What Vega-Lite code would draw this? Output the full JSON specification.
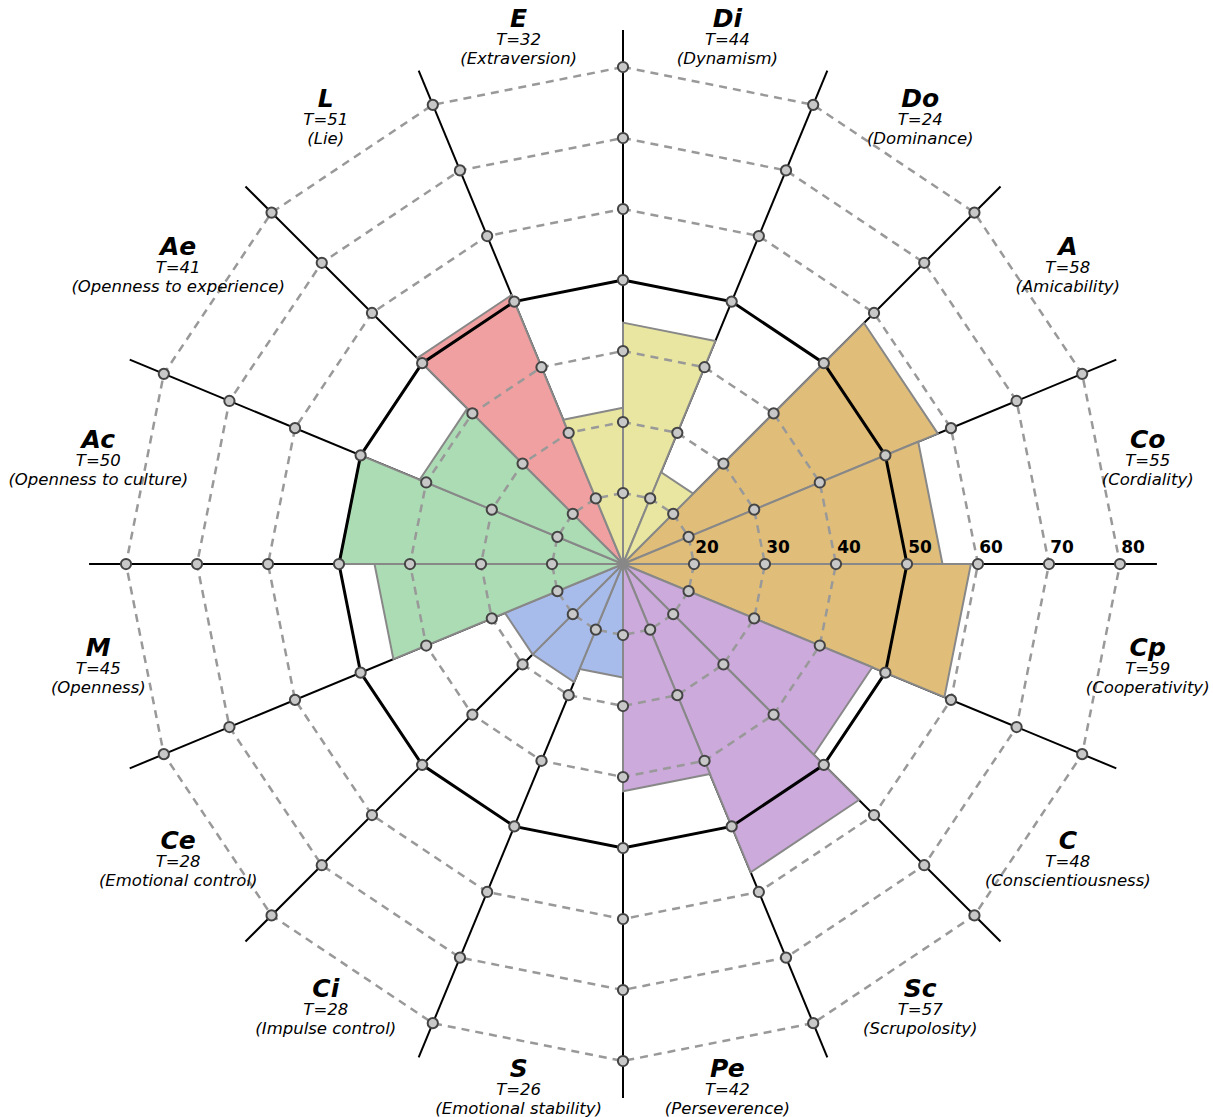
{
  "$schema": "https://vega.github.io/schema/vega-lite/v6.json",
  "width": 1213,
  "height": 1117,
  "padding": 0,
  "autosize": "none",
  "background": "white",
  "config": {"view": {"stroke": null}, "font": "DejaVu Sans"},
  "datasets": {
    "scales": [
      {"idx": 0, "abbr": "Di", "T": 44, "name": "Dynamism", "grp": "E"},
      {"idx": 1, "abbr": "Do", "T": 24, "name": "Dominance", "grp": "E"},
      {"idx": 2, "abbr": "A", "T": 58, "name": "Amicability", "grp": "A"},
      {"idx": 3, "abbr": "Co", "T": 55, "name": "Cordiality", "grp": "A"},
      {"idx": 4, "abbr": "Cp", "T": 59, "name": "Cooperativity", "grp": "A"},
      {"idx": 5, "abbr": "C", "T": 48, "name": "Conscientiousness", "grp": "C"},
      {"idx": 6, "abbr": "Sc", "T": 57, "name": "Scrupolosity", "grp": "C"},
      {"idx": 7, "abbr": "Pe", "T": 42, "name": "Perseverence", "grp": "C"},
      {"idx": 8, "abbr": "S", "T": 26, "name": "Emotional stability", "grp": "S"},
      {"idx": 9, "abbr": "Ci", "T": 28, "name": "Impulse control", "grp": "S"},
      {"idx": 10, "abbr": "Ce", "T": 28, "name": "Emotional control", "grp": "S"},
      {"idx": 11, "abbr": "M", "T": 45, "name": "Openness", "grp": "M"},
      {"idx": 12, "abbr": "Ac", "T": 50, "name": "Openness to culture", "grp": "M"},
      {"idx": 13, "abbr": "Ae", "T": 41, "name": "Openness to experience", "grp": "M"},
      {"idx": 14, "abbr": "L", "T": 51, "name": "Lie", "grp": "L"},
      {"idx": 15, "abbr": "E", "T": 32, "name": "Extraversion", "grp": "E"}
    ],
    "levels": [
      {"level": 20, "k": [0,1,2,3,4,5,6,7,8,9,10,11,12,13,14,15,16]},
      {"level": 30, "k": [0,1,2,3,4,5,6,7,8,9,10,11,12,13,14,15,16]},
      {"level": 40, "k": [0,1,2,3,4,5,6,7,8,9,10,11,12,13,14,15,16]},
      {"level": 50, "k": [0,1,2,3,4,5,6,7,8,9,10,11,12,13,14,15,16]},
      {"level": 60, "k": [0,1,2,3,4,5,6,7,8,9,10,11,12,13,14,15,16]},
      {"level": 70, "k": [0,1,2,3,4,5,6,7,8,9,10,11,12,13,14,15,16]},
      {"level": 80, "k": [0,1,2,3,4,5,6,7,8,9,10,11,12,13,14,15,16]}
    ]
  },
  "encoding": {
    "x": {"field": "x", "type": "quantitative", "scale": {"domain": [-87.746, 83.099], "nice": false, "zero": false}, "axis": null},
    "y": {"field": "y", "type": "quantitative", "scale": {"domain": [-77.887, 79.437], "nice": false, "zero": false}, "axis": null}
  },
  "layer": [
    {
      "data": {"name": "scales"},
      "transform": [
        {"calculate": "0", "as": "x"},
        {"calculate": "0", "as": "y"},
        {"calculate": "75.2*sin(datum.idx*PI/8)", "as": "x2"},
        {"calculate": "75.2*cos(datum.idx*PI/8)", "as": "y2"}
      ],
      "mark": {"type": "rule", "color": "black", "strokeWidth": 2},
      "encoding": {
        "x2": {"field": "x2"},
        "y2": {"field": "y2"}
      }
    },
    {
      "data": {"name": "scales"},
      "transform": [
        {"calculate": "[0,1,2,3]", "as": "verts"},
        {"flatten": ["verts"], "as": ["ord"]},
        {"calculate": "(datum.ord==1||datum.ord==2) ? datum.T-10 : 0", "as": "rr"},
        {"calculate": "(datum.idx + (datum.ord==2 ? 1 : 0))*PI/8", "as": "ang"},
        {"calculate": "datum.rr*sin(datum.ang)", "as": "x"},
        {"calculate": "datum.rr*cos(datum.ang)", "as": "y"}
      ],
      "mark": {"type": "line", "stroke": "#888888", "strokeWidth": 2, "strokeJoin": "miter"},
      "encoding": {
        "fill": {"field": "grp", "type": "nominal", "legend": null,
          "scale": {"domain": ["E", "A", "C", "S", "M", "L"], "range": ["#e8e6a0", "#e0be7a", "#ccaadc", "#a8bcec", "#acdcb4", "#f0a0a0"]}},
        "detail": {"field": "abbr"},
        "order": {"field": "ord", "type": "quantitative"}
      }
    },
    {
      "data": {"name": "levels"},
      "transform": [
        {"filter": "datum.level != 50"},
        {"flatten": ["k"]},
        {"calculate": "(datum.level-10)*sin(datum.k*PI/8)", "as": "x"},
        {"calculate": "(datum.level-10)*cos(datum.k*PI/8)", "as": "y"}
      ],
      "mark": {"type": "line", "stroke": "#999999", "strokeWidth": 2.5, "strokeDash": [8, 6]},
      "encoding": {
        "detail": {"field": "level"},
        "order": {"field": "k", "type": "quantitative"}
      }
    },
    {
      "data": {"name": "levels"},
      "transform": [
        {"filter": "datum.level == 50"},
        {"flatten": ["k"]},
        {"calculate": "(datum.level-10)*sin(datum.k*PI/8)", "as": "x"},
        {"calculate": "(datum.level-10)*cos(datum.k*PI/8)", "as": "y"}
      ],
      "mark": {"type": "line", "stroke": "black", "strokeWidth": 3},
      "encoding": {
        "detail": {"field": "level"},
        "order": {"field": "k", "type": "quantitative"}
      }
    },
    {
      "data": {"name": "levels"},
      "transform": [
        {"flatten": ["k"]},
        {"filter": "datum.k < 16"},
        {"calculate": "(datum.level-10)*sin(datum.k*PI/8)", "as": "x"},
        {"calculate": "(datum.level-10)*cos(datum.k*PI/8)", "as": "y"}
      ],
      "mark": {"type": "circle", "size": 105, "fill": "#c8c8c8", "stroke": "#444444", "strokeWidth": 2, "opacity": 1}
    },
    {
      "data": {"name": "levels"},
      "transform": [
        {"calculate": "datum.level-10", "as": "x"},
        {"calculate": "0", "as": "y"}
      ],
      "mark": {"type": "text", "fontSize": 17, "fontWeight": "bold", "color": "black", "align": "center", "baseline": "alphabetic", "dx": 13, "dy": -11},
      "encoding": {"text": {"field": "level"}}
    },
    {
      "data": {"name": "scales"},
      "transform": [
        {"calculate": "75.35*sin((datum.idx+0.5)*PI/8)", "as": "x"},
        {"calculate": "75.35*cos((datum.idx+0.5)*PI/8)", "as": "y"}
      ],
      "mark": {"type": "text", "fontSize": 25, "fontWeight": "bold", "fontStyle": "italic", "color": "black", "align": "center", "baseline": "middle", "dy": -20},
      "encoding": {"text": {"field": "abbr"}}
    },
    {
      "data": {"name": "scales"},
      "transform": [
        {"calculate": "75.35*sin((datum.idx+0.5)*PI/8)", "as": "x"},
        {"calculate": "75.35*cos((datum.idx+0.5)*PI/8)", "as": "y"},
        {"calculate": "'T=' + datum.T", "as": "tl"}
      ],
      "mark": {"type": "text", "fontSize": 16.5, "fontStyle": "italic", "color": "black", "align": "center", "baseline": "middle", "dy": 1},
      "encoding": {"text": {"field": "tl"}}
    },
    {
      "data": {"name": "scales"},
      "transform": [
        {"calculate": "75.35*sin((datum.idx+0.5)*PI/8)", "as": "x"},
        {"calculate": "75.35*cos((datum.idx+0.5)*PI/8)", "as": "y"},
        {"calculate": "'(' + datum.name + ')'", "as": "nl"}
      ],
      "mark": {"type": "text", "fontSize": 16.5, "fontStyle": "italic", "color": "black", "align": "center", "baseline": "middle", "dy": 20},
      "encoding": {"text": {"field": "nl"}}
    }
  ]
}
